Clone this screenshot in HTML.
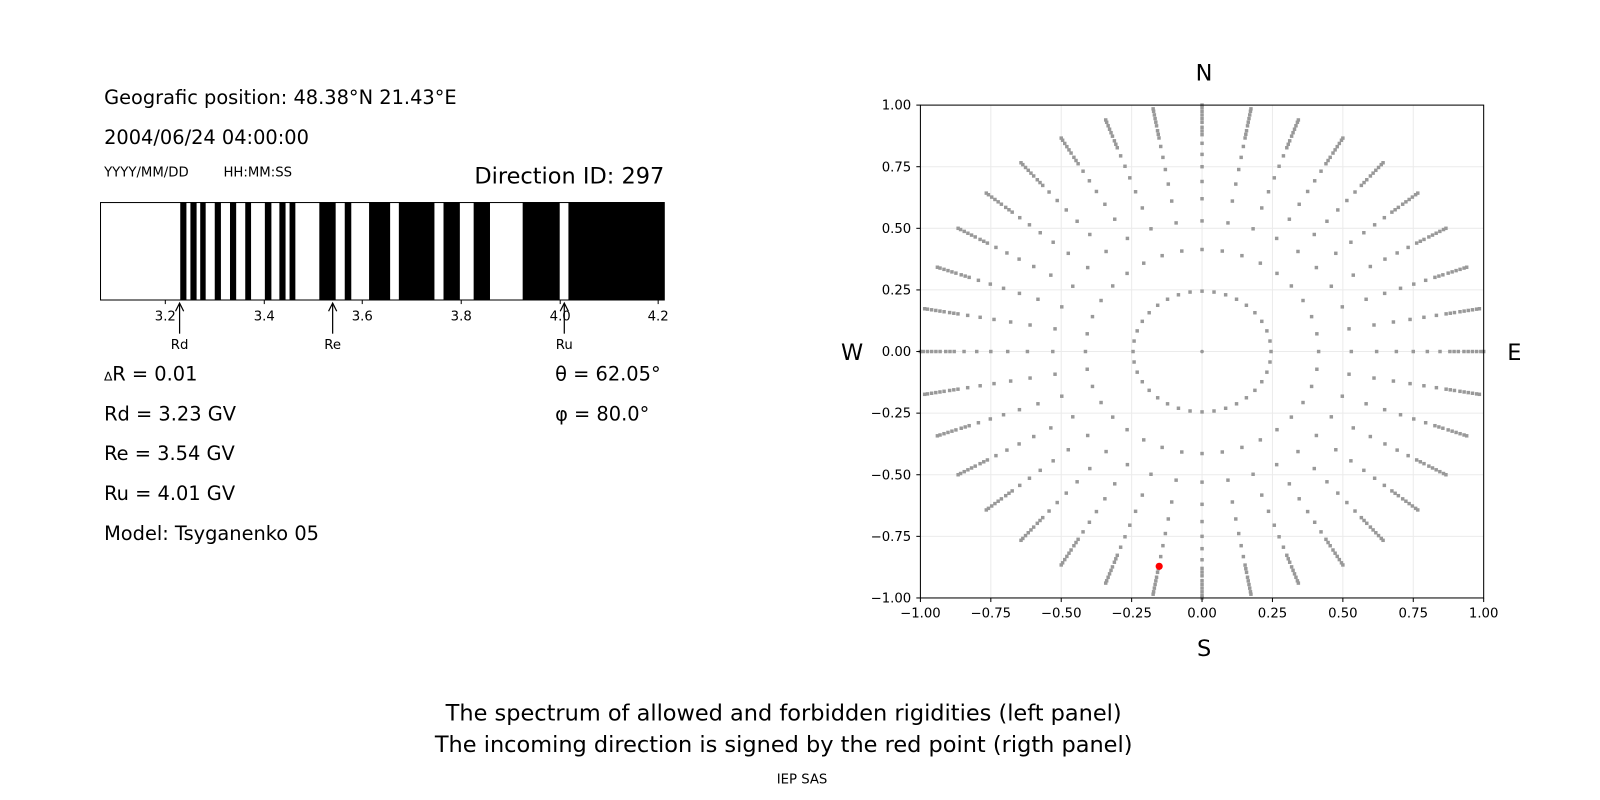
<!DOCTYPE html>
<html><head><meta charset="utf-8"><style>
body{margin:0;background:#fff;}
svg{display:block;font-family:"DejaVu Sans","Liberation Sans",sans-serif;}
</style></head><body>
<svg id="s" width="1600" height="800" viewBox="0 0 1568 784" preserveAspectRatio="none" xmlns="http://www.w3.org/2000/svg">
<rect width="1568" height="784" fill="#fff"/>
<text x="102" y="102" font-size="19">Geografic position: 48.38°N 21.43°E</text>
<text x="102" y="141" font-size="19">2004/06/24 04:00:00</text>
<text x="102" y="173" font-size="13">YYYY/MM/DD</text>
<text x="219" y="173" font-size="13">HH:MM:SS</text>
<text x="651" y="180" font-size="22" text-anchor="end">Direction ID: 297</text>
<svg x="98" y="198" width="553" height="96" viewBox="14 0 1554 100" preserveAspectRatio="none">
<g fill="#000">
<rect x="235" y="0" width="17" height="100"/><rect x="263" y="0" width="17" height="100"/>
<rect x="290" y="0" width="15" height="100"/><rect x="330" y="0" width="17" height="100"/>
<rect x="372" y="0" width="17" height="100"/><rect x="414" y="0" width="16" height="100"/>
<rect x="468" y="0" width="18" height="100"/><rect x="508" y="0" width="17" height="100"/>
<rect x="536" y="0" width="16" height="100"/><rect x="618" y="0" width="45" height="100"/>
<rect x="688" y="0" width="18" height="100"/><rect x="755" y="0" width="58" height="100"/>
<rect x="837" y="0" width="98" height="100"/><rect x="960" y="0" width="45" height="100"/>
<rect x="1043" y="0" width="45" height="100"/><rect x="1178" y="0" width="102" height="100"/>
<rect x="1304" y="0" width="270" height="100"/>
</g></svg>
<rect x="98.5" y="198.5" width="552.5" height="95.5" fill="none" stroke="#000" stroke-width="1"/>
<g stroke="#000" stroke-width="1">
<line x1="162" y1="294" x2="162" y2="298"/><line x1="259" y1="294" x2="259" y2="298"/>
<line x1="355" y1="294" x2="355" y2="298"/><line x1="452" y1="294" x2="452" y2="298"/>
<line x1="549" y1="294" x2="549" y2="298"/><line x1="645" y1="294" x2="645" y2="298"/>
</g>
<g font-size="13" text-anchor="middle">
<text x="162" y="314">3.2</text><text x="259" y="314">3.4</text><text x="355" y="314">3.6</text>
<text x="452" y="314">3.8</text><text x="549" y="314">4.0</text><text x="645" y="314">4.2</text>
<text x="176" y="342">Rd</text><text x="326" y="342">Re</text><text x="553" y="342">Ru</text>
</g>
<g stroke="#000" stroke-width="1.2" fill="none">
<line x1="176" y1="327" x2="176" y2="298"/><polyline points="172,305 176,297 180,305"/>
<line x1="326" y1="327" x2="326" y2="298"/><polyline points="322,305 326,297 330,305"/>
<line x1="553" y1="327" x2="553" y2="298"/><polyline points="549,305 553,297 557,305"/>
</g>
<g font-size="19">
<text x="102" y="373"><tspan font-size="12">∆</tspan>R = 0.01</text>
<text x="102" y="412">Rd = 3.23 GV</text>
<text x="102" y="451">Re = 3.54 GV</text>
<text x="102" y="490">Ru = 4.01 GV</text>
<text x="102" y="529">Model: Tsyganenko 05</text>
<text x="544" y="373">θ = 62.05°</text>
<text x="544" y="412">φ = 80.0°</text>
</g>
<g id="grid" stroke="#ebebeb" stroke-width="1"></g>
<g id="pts" fill="#999"></g>
<circle cx="1136" cy="555" r="3.5" fill="#f00"/>
<rect x="902" y="103" width="552" height="483" fill="none" stroke="#000" stroke-width="1"/>
<g id="ticks" font-size="13"></g>
<g font-size="22" text-anchor="middle">
<text x="1180" y="79">N</text><text x="1180" y="643">S</text>
<text x="835" y="353">W</text><text x="1484" y="353">E</text>
<text x="768" y="706">The spectrum of allowed and forbidden rigidities (left panel)</text>
<text x="768" y="737">The incoming direction is signed by the red point (rigth panel)</text>
</g>
<text x="786" y="768" font-size="13" text-anchor="middle">IEP SAS</text>
</svg>
<script>
var NS="http://www.w3.org/2000/svg";
function el(p,t,a,txt){var e=document.createElementNS(NS,t);for(var k in a)e.setAttribute(k,a[k]);if(txt)e.textContent=txt;document.getElementById(p).appendChild(e);}
var cx=1178,cy=344.5,sx=276,sy=241.5;
var v=[-1,-0.75,-0.5,-0.25,0,0.25,0.5,0.75,1];
v.forEach(function(t){
 var X=cx+t*sx,Y=cy-t*sy;
 el("grid","line",{x1:X,y1:103,x2:X,y2:586});
 el("grid","line",{x1:902,y1:Y,x2:1454,y2:Y});
 el("ticks","line",{x1:X,y1:586,x2:X,y2:590,stroke:"#000"});
 el("ticks","line",{x1:898,y1:Y,x2:902,y2:Y,stroke:"#000"});
 var s=t.toFixed(2).replace("-","−");
 el("ticks","text",{x:X,y:605,"text-anchor":"middle"},s);
 el("ticks","text",{x:893,y:Y+4.5,"text-anchor":"end"},s);
});
var rs=[0.245,0.414,0.53,0.62,0.69,0.75,0.80,0.845,0.88,0.895,0.91,0.93,0.945,0.96,0.975,0.99,1.0];
el("pts","circle",{cx:cx,cy:cy,r:1.8});
for(var k=0;k<36;k++){
 rs.forEach(function(r){
  var a=k*10*Math.PI/180;
  el("pts","rect",{x:cx+r*Math.sin(a)*sx-1.7,y:cy-r*Math.cos(a)*sy-1.7,width:3.4,height:3.4});
 });
}
</script>
</body></html>
